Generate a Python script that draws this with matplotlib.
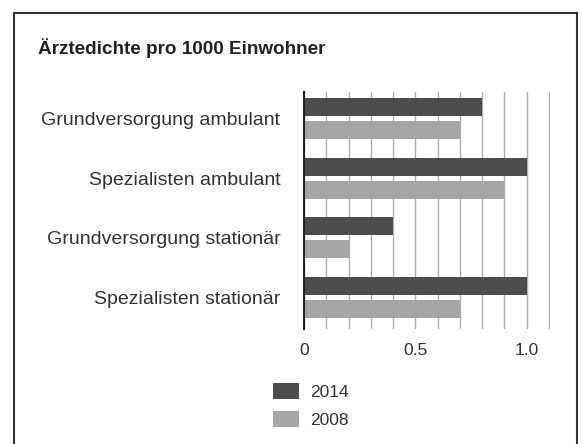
import matplotlib
matplotlib.use("Agg")
from matplotlib import pyplot as plt
from matplotlib.lines import Line2D
import numpy as np

kategorien = ["Grundversorgung ambulant", "Spezialisten ambulant",
              "Grundversorgung stationär", "Spezialisten stationär"]
werte_2014 = [0.8, 1.0, 0.4, 1.0]
werte_2008 = [0.7, 0.9, 0.2, 0.7]
x_ticks = [0, 0.5, 1.0]
x_tick_labels = ["0", "0.5", "1.0"]

plt.rcParams["font.family"] = ["Liberation Sans", "DejaVu Sans"]
text_farbe = "#333333"
dunkel = "#4d4d4d"
hell = "#a6a6a6"

fig = plt.figure(figsize=(5.83, 4.44), dpi=100)
ax = fig.add_axes([304 / 583, 1 - 329 / 444, 246 / 583, 237 / 444])

y = np.arange(len(kategorien))
versatz = 0.193
hoehe = 0.30
ax.barh(y - versatz, werte_2014, height=hoehe, color=dunkel, label="2014", zorder=3)
ax.barh(y + versatz, werte_2008, height=hoehe, color=hell, label="2008", zorder=3)

ax.set_xlim(0, 1.1045)
ax.set_ylim(3.526, -0.444)
ax.set_xticks(np.arange(0, 1.11, 0.1), minor=True)
ax.set_xticks(x_ticks)
ax.set_xticklabels(x_tick_labels)
ax.set_yticks(y)
ax.set_yticklabels(kategorien)
ax.grid(axis="x", which="both", color="#b0b0b0", linewidth=1.0, zorder=0)
ax.tick_params(axis="both", which="both", length=0, labelsize=14, colors=text_farbe)
ax.tick_params(axis="x", labelsize=12.5, pad=10)
ax.tick_params(axis="y", pad=17)
for s in ["top", "right", "bottom"]:
    ax.spines[s].set_visible(False)
ax.spines["left"].set_color("#222222")
ax.spines["left"].set_linewidth(1.5)
ax.spines["left"].set_zorder(4)

ax.legend(loc="upper left", bbox_to_anchor=(273 / 583, 1 - 383 / 444),
          bbox_transform=fig.transFigure, frameon=False, fontsize=12.5,
          handlelength=1.5, handleheight=1.05, handletextpad=0.62,
          labelspacing=0.62, borderpad=0, borderaxespad=0, labelcolor=text_farbe)

fig.text(38 / 583, 1 - 48 / 444, "Ärztedichte pro 1000 Einwohner", fontsize=13.6,
         fontweight="bold", color="#222222", ha="left", va="center")

# Rahmen
for xs, ys in [([14, 14], [444, 13]), ([14, 577], [13, 13]), ([577, 577], [13, 444])]:
    fig.add_artist(Line2D([v / 583 for v in xs], [1 - v / 444 for v in ys],
                          transform=fig.transFigure, color="#333333", linewidth=1.5))

fig.savefig("out.png", dpi=100)
